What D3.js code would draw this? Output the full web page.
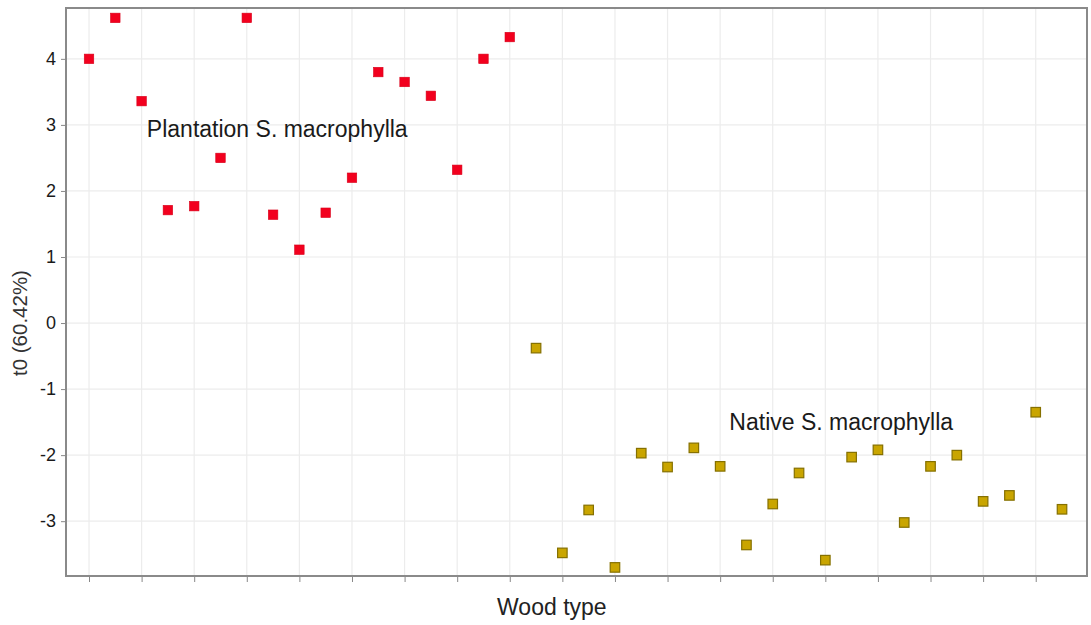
<!DOCTYPE html>
<meta charset="utf-8">
<style>
body { margin: 0; background: #fff; }
text { font-family: "Liberation Sans", Arial, sans-serif; }
.grid line { stroke: #ececec; stroke-width: 1.2; }
.axis text { font-size: 18px; fill: #1a1a1a; }
.axis line { stroke: #888; }
.axis .domain { display: none; }
</style>
<body>
<svg width="1091" height="625"></svg>
<script src="https://d3js.org/d3.v7.min.js"></script>
<script>
// scores on the first component, one per sample, in plot order
var plantation = [4.0, 4.62, 3.36, 1.71, 1.77, 2.5, 4.62, 1.64, 1.11, 1.67, 2.2, 3.8, 3.65, 3.44, 2.32, 4.0, 4.33];
var native = [-0.38, -3.48, -2.83, -3.7, -1.97, -2.18, -1.89, -2.17, -3.36, -2.74, -2.27, -3.59,
              -2.03, -1.92, -3.02, -2.17, -2.0, -2.7, -2.61, -1.35, -2.82];
var yTicks = [-3, -2, -1, 0, 1, 2, 3, 4];
var groupLabels = ["Plantation S. macrophylla", "Native S. macrophylla"];

var svg = d3.select("svg"),
    margin = {top: 8, right: 4, bottom: 49, left: 66},
    width = +svg.attr("width") - margin.left - margin.right,
    height = +svg.attr("height") - margin.top - margin.bottom,
    g = svg.append("g").attr("transform", "translate(" + margin.left + "," + margin.top + ")");

var n = plantation.length + native.length;
var x = d3.scaleLinear().domain([-0.875, 37.95]).range([0, width]);
var y = d3.scaleLinear().domain([-3.83, 4.77]).range([height, 0]);

var xTicks = d3.range(0, n, 2);

// grid
g.append("g").attr("class", "grid")
  .selectAll("line").data(xTicks).enter().append("line")
    .attr("x1", function(d) { return x(d); }).attr("x2", function(d) { return x(d); })
    .attr("y1", 0).attr("y2", height);
g.append("g").attr("class", "grid")
  .selectAll("line").data(yTicks).enter().append("line")
    .attr("y1", function(d) { return y(d); }).attr("y2", function(d) { return y(d); })
    .attr("x1", 0).attr("x2", width);

g.append("g")
    .attr("class", "axis")
    .call(d3.axisLeft(y).tickValues(yTicks).tickSize(5).tickPadding(5).tickFormat(String));

g.append("g")
    .attr("class", "axis")
    .attr("transform", "translate(0," + height + ")")
    .call(d3.axisBottom(x).tickValues(xTicks).tickSize(6).tickFormat(""));

// frame
g.append("rect")
    .attr("width", width).attr("height", height)
    .attr("fill", "none").attr("stroke", "#8a8a8a").attr("stroke-width", 2);

var s = 9.5;
g.append("g").selectAll("rect").data(plantation).enter().append("rect")
    .attr("x", function(d, i) { return x(i) - s / 2; })
    .attr("y", function(d) { return y(d) - s / 2; })
    .attr("width", s).attr("height", s)
    .attr("fill", "#f2001e").attr("stroke", "#d8001a").attr("stroke-width", 0.6);

g.append("g").selectAll("rect").data(native).enter().append("rect")
    .attr("x", function(d, i) { return x(i + plantation.length) - s / 2; })
    .attr("y", function(d) { return y(d) - s / 2; })
    .attr("width", s).attr("height", s)
    .attr("fill", "#c9a500").attr("stroke", "#857000").attr("stroke-width", 1.2);

g.append("text")
    .attr("x", x(2.2)).attr("y", y(2.82))
    .style("font-size", "23px").attr("fill", "#1a1a1a")
    .text(groupLabels[0]);
g.append("text")
    .attr("x", x(24.35)).attr("y", y(-1.62))
    .style("font-size", "23px").attr("fill", "#1a1a1a")
    .text(groupLabels[1]);

svg.append("text")
    .attr("x", margin.left + x(17.6)).attr("y", 615)
    .attr("text-anchor", "middle")
    .style("font-size", "23px").attr("fill", "#222")
    .text("Wood type");

svg.append("text")
    .attr("transform", "translate(27," + (margin.top + y(0)) + ") rotate(-90)")
    .attr("text-anchor", "middle")
    .style("font-size", "20.5px").attr("fill", "#333")
    .text("t0 (60.42%)");
</script>
